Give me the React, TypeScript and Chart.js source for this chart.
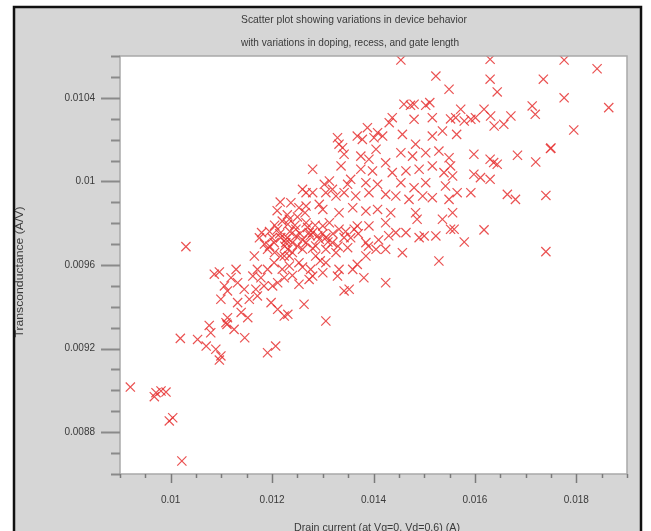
import React, { useEffect, useRef } from "react";
import { Chart, registerables } from "chart.js";

Chart.register(...registerables);

const titleLines = [
  "Scatter plot showing variations in device behavior",
  "with variations in doping, recess, and gate length",
];
const xAxisTitle = "Drain current (at Vg=0, Vd=0.6) (A)";
const yAxisTitle = "Transconductance (A/V)";

const xMin = 0.009;
const xMax = 0.019;
const yMin = 0.0086;
const yMax = 0.0106;
const xMinorStep = 0.0005;
const yMinorStep = 0.0001;
const xMajorTicks = [0.01, 0.012, 0.014, 0.016, 0.018];
const yMajorTicks = [0.0088, 0.0092, 0.0096, 0.01, 0.0104];

const xValues = [
  // lower-left region
  0.01216, 0.011793, 0.0103, 0.01019, 0.009204, 0.00971, 0.009809, 0.009907, 0.009677, 0.01004,
  0.009972, 0.01022, 0.01076, 0.01053, 0.0107, 0.01089, 0.01099, 0.01096, 0.01079, 0.01109,
  0.01112, 0.01125, 0.01146, 0.01191, 0.01207, 0.01099, 0.01132, 0.01145, 0.01155, 0.01171,
  0.01198, 0.01211, 0.01224, 0.01086, 0.01096, 0.01106, 0.01119, 0.01129, 0.01132, 0.01112,
  0.01165, 0.01171, 0.01178, 0.01191, 0.01204, 0.01217, 0.01211, 0.01224, 0.01184, 0.01191,
  0.01204, 0.01217, 0.01227, 0.01231, 0.01224, 0.01139, 0.01152, 0.01111, 0.01162, 0.01201,
  0.01168, 0.01211, 0.01231,
  // middle region
  0.01454, 0.01523, 0.01549, 0.0146, 0.01473, 0.0148, 0.01503, 0.01511, 0.01516, 0.0148,
  0.01437, 0.01431, 0.01388, 0.01408, 0.01418, 0.01401, 0.01368, 0.01378, 0.01457, 0.01483,
  0.01516, 0.01536, 0.01552, 0.01329, 0.01332, 0.01339, 0.01342, 0.01405, 0.01454, 0.01477,
  0.01503, 0.01529, 0.01549, 0.01375, 0.01391, 0.01424, 0.0128, 0.01336, 0.01375, 0.01398,
  0.01437, 0.01464, 0.0149, 0.01516, 0.01539, 0.01313, 0.01303, 0.01355, 0.01349, 0.01385,
  0.01408, 0.01454, 0.0148, 0.01503, 0.01542, 0.0126, 0.01267, 0.0128, 0.01306, 0.01319,
  0.01326, 0.01342, 0.01365, 0.01391, 0.01424, 0.01444, 0.0147, 0.01497, 0.01516, 0.01549,
  0.01237, 0.01253, 0.01267, 0.01293, 0.013, 0.01332, 0.01359, 0.01385, 0.01408, 0.01434,
  0.01483, 0.01486, 0.01536, 0.01556, 0.01234, 0.01247, 0.01267, 0.0128, 0.013, 0.01306,
  0.01332, 0.01362, 0.01368, 0.01391, 0.01424, 0.01444, 0.01464, 0.0149, 0.015, 0.01523,
  0.01552, 0.01227, 0.0124, 0.01234, 0.0126, 0.01267, 0.01286, 0.01293, 0.01319, 0.01326,
  0.01349, 0.01385, 0.01385, 0.01405, 0.01424, 0.01457, 0.01529, 0.01234, 0.01253, 0.01276,
  0.0128, 0.01273, 0.01306, 0.013, 0.01332, 0.01329, 0.01359, 0.01368, 0.01381, 0.01253,
  0.01424, 0.01342, 0.01352, 0.01263, 0.01306, 0.01231, 0.01247, 0.01273, 0.01313, 0.01286,
  0.01306, 0.01342,
  // right region
  0.0163, 0.01776, 0.01841, 0.0163, 0.01735, 0.01644, 0.01776, 0.01864, 0.01713, 0.01719,
  0.01572, 0.01562, 0.01579, 0.01592, 0.01601, 0.01618, 0.01631, 0.01671, 0.01638, 0.01657,
  0.01795, 0.01564, 0.01749, 0.01598, 0.0163, 0.01644, 0.01684, 0.0172, 0.01552, 0.01556,
  0.01598, 0.01611, 0.0163, 0.01565, 0.01592, 0.01664, 0.0168, 0.0174, 0.01559, 0.01579,
  0.01618, 0.0174, 0.0175, 0.01637,
  // dense core
  0.01205, 0.0122, 0.01235, 0.01245, 0.01255, 0.01215, 0.012, 0.01225, 0.0124, 0.0126,
  0.0127, 0.01285, 0.0129, 0.0123, 0.0121, 0.0125, 0.01265, 0.01195, 0.01205, 0.0125,
  0.0128, 0.01295, 0.0122, 0.0124, 0.0126, 0.01185, 0.01175, 0.01195, 0.0123, 0.01275,
  0.013, 0.0131, 0.0132, 0.0133, 0.01345, 0.01355, 0.0137, 0.0139, 0.0141, 0.0143,
];

const yValues = [
  // lower-left region
  0.009901, 0.009755, 0.009688, 0.009249, 0.009016, 0.008989, 0.008997, 0.008992, 0.00897, 0.008869,
  0.008854, 0.008662, 0.009311, 0.009244, 0.009212, 0.009197, 0.009165, 0.009145, 0.009276, 0.009324,
  0.009348, 0.009292, 0.009252, 0.00918, 0.009212, 0.009436, 0.00942, 0.009484, 0.009436, 0.009452,
  0.00942, 0.009388, 0.009356, 0.009556, 0.009567, 0.0095, 0.009539, 0.009579, 0.009515, 0.009476,
  0.009643, 0.009579, 0.009539, 0.009579, 0.009611, 0.009643, 0.009515, 0.009539, 0.0095, 0.009675,
  0.009707, 0.009731, 0.009707, 0.009675, 0.009643, 0.009373, 0.009348, 0.009316, 0.009547, 0.0095,
  0.009484, 0.009771, 0.009795,
  // middle region
  0.010581, 0.010504, 0.010441, 0.010369, 0.010364, 0.010369, 0.010364, 0.010377, 0.010305, 0.010297,
  0.010305, 0.010281, 0.010257, 0.010233, 0.010217, 0.010209, 0.010217, 0.010201, 0.010225, 0.010178,
  0.010217, 0.010241, 0.010299, 0.010209, 0.010178, 0.010161, 0.01013, 0.010154, 0.010137, 0.010121,
  0.010137, 0.010145, 0.010113, 0.010121, 0.010106, 0.010089, 0.010058, 0.010074, 0.010058, 0.01005,
  0.010042, 0.01005, 0.010058, 0.010074, 0.010042, 0.010002, 0.009986, 0.01001, 0.009986, 0.009994,
  0.009986, 0.009994, 0.00997, 0.009994, 0.009978, 0.009962, 0.009946, 0.009946, 0.009946, 0.009962,
  0.00993, 0.009946, 0.00993, 0.009946, 0.009938, 0.00993, 0.009914, 0.00993, 0.009922, 0.009914,
  0.009898, 0.009874, 0.009882, 0.00989, 0.009866, 0.00985, 0.009874, 0.009858, 0.009866, 0.00985,
  0.00985, 0.009819, 0.009819, 0.00985, 0.009819, 0.009771, 0.009802, 0.009755, 0.009787, 0.009731,
  0.009771, 0.009771, 0.009787, 0.009787, 0.009802, 0.009755, 0.009755, 0.009731, 0.009739, 0.009739,
  0.009771, 0.009723, 0.009707, 0.009643, 0.009675, 0.009707, 0.009691, 0.009723, 0.009707, 0.009659,
  0.009683, 0.009707, 0.009643, 0.009675, 0.009675, 0.009659, 0.009619, 0.009595, 0.009611, 0.009579,
  0.009547, 0.009531, 0.009611, 0.009563, 0.009579, 0.009547, 0.009579, 0.009603, 0.009539, 0.009508,
  0.009515, 0.009476, 0.009484, 0.009412, 0.009332, 0.009364, 0.009739, 0.009755, 0.009802, 0.009643,
  0.009675, 0.009731,
  // right region
  0.010584, 0.010581, 0.010539, 0.010489, 0.010489, 0.010428, 0.0104, 0.010353, 0.010361, 0.010321,
  0.010345, 0.010305, 0.010289, 0.010297, 0.010305, 0.010345, 0.010313, 0.010313, 0.010265, 0.010273,
  0.010246, 0.010225, 0.010157, 0.01013, 0.010106, 0.010082, 0.010125, 0.010093, 0.010074, 0.010026,
  0.010034, 0.010018, 0.01001, 0.009946, 0.009946, 0.009938, 0.009914, 0.009933, 0.009771, 0.00971,
  0.009768, 0.009664, 0.01016, 0.01009,
  // dense core
  0.00979, 0.00981, 0.00976, 0.00979, 0.00975, 0.00975, 0.00973, 0.00969, 0.00966, 0.00972,
  0.00978, 0.00979, 0.00974, 0.00984, 0.00986, 0.00983, 0.00985, 0.00969, 0.00966, 0.00969,
  0.00968, 0.00962, 0.00958, 0.00955, 0.00959, 0.0097, 0.00973, 0.00976, 0.00973, 0.00974,
  0.00975, 0.00971, 0.00975, 0.00969, 0.00976, 0.00973, 0.00975, 0.00969, 0.00972, 0.00974,
];

const isMajor = (v: number, majors: number[]) => majors.some((m) => Math.abs(m - v) < 1e-9);
const fmt = (v: number) => String(Number(v.toFixed(5)));

function drawFitText(ctx: CanvasRenderingContext2D, text: string, cx: number, cy: number, width: number, font: string, rotate = 0) {
  ctx.save();
  ctx.font = font;
  const w = ctx.measureText(text).width;
  ctx.translate(cx, cy);
  if (rotate) ctx.rotate(rotate);
  ctx.scale(width / w, 1);
  ctx.textAlign = "center";
  ctx.textBaseline = "middle";
  ctx.fillText(text, 0, 0);
  ctx.restore();
}

const decorPlugin = {
  id: "decor",
  beforeDraw(chart: any) {
    const { ctx, chartArea: a, width, height } = chart;
    ctx.save();
    ctx.fillStyle = "#ffffff";
    ctx.fillRect(0, 0, width, height);
    ctx.fillStyle = "#d6d6d6";
    ctx.fillRect(14, 7, 627, height);
    ctx.strokeStyle = "#111111";
    ctx.lineWidth = 2.5;
    ctx.strokeRect(14, 7, 627, height + 20);
    ctx.fillStyle = "#ffffff";
    ctx.fillRect(a.left, a.top, a.right - a.left, a.bottom - a.top);
    ctx.restore();
  },
  afterDatasetsDraw(chart: any) {
    const { ctx, chartArea: a } = chart;
    const xs = chart.scales.x;
    const ys = chart.scales.y;
    ctx.save();
    ctx.strokeStyle = "#a9a9a9";
    ctx.lineWidth = 1.5;
    ctx.strokeRect(a.left, a.top, a.right - a.left, a.bottom - a.top);
    ctx.strokeStyle = "#8a8a8a";
    ctx.lineWidth = 2;
    ys.ticks.forEach((t: any) => {
      const p = Math.round(ys.getPixelForValue(t.value)) + 0.5;
      const len = isMajor(t.value, yMajorTicks) ? 19 : 9;
      ctx.beginPath();
      ctx.moveTo(a.left - len, p);
      ctx.lineTo(a.left, p);
      ctx.stroke();
    });
    ctx.strokeStyle = "#7a7a7a";
    ctx.lineWidth = 1.5;
    xs.ticks.forEach((t: any) => {
      const p = Math.round(xs.getPixelForValue(t.value)) + 0.5;
      const len = isMajor(t.value, xMajorTicks) ? 9 : 4;
      ctx.beginPath();
      ctx.moveTo(p, a.bottom);
      ctx.lineTo(p, a.bottom + len);
      ctx.stroke();
    });
    ctx.fillStyle = "#3a3a3a";
    const f = '11px "Liberation Sans", Arial, sans-serif';
    drawFitText(ctx, titleLines[0], 354, 20, 226, f);
    drawFitText(ctx, titleLines[1], 350, 43, 218, f);
    drawFitText(ctx, xAxisTitle, 377, 528, 166, f);
    drawFitText(ctx, yAxisTitle, 20, 272, 131, f, -Math.PI / 2);
    ctx.restore();
  },
};

export default function App() {
  const ref = useRef<HTMLCanvasElement | null>(null);
  useEffect(() => {
    if (!ref.current) return;
    const points = xValues.map((x, i) => ({ x, y: yValues[i] }));
    const chart = new Chart(ref.current, {
      type: "scatter",
      data: {
        datasets: [
          {
            data: points,
            pointStyle: "crossRot",
            pointRadius: 6.5,
            pointBorderWidth: 1.2,
            borderColor: "rgba(230, 50, 50, 0.85)",
            backgroundColor: "rgba(230, 50, 50, 0.85)",
          },
        ],
      },
      options: {
        animation: false,
        responsive: false,
        devicePixelRatio: 1,
        layout: { padding: { left: 0, top: 56, right: 24, bottom: 0 } },
        plugins: { legend: { display: false }, title: { display: false }, tooltip: { enabled: false } },
        scales: {
          x: {
            type: "linear",
            min: xMin,
            max: xMax,
            afterFit: (s: any) => {
              s.height = 57;
            },
            grid: { display: false, drawTicks: false },
            border: { display: false },
            ticks: {
              stepSize: xMinorStep,
              autoSkip: false,
              maxRotation: 0,
              padding: 20,
              color: "#3a3a3a",
              font: { family: '"Liberation Sans", Arial, sans-serif', size: 10 },
              callback: (v: any) => (isMajor(Number(v), xMajorTicks) ? fmt(Number(v)) : ""),
            },
          },
          y: {
            type: "linear",
            min: yMin,
            max: yMax,
            afterFit: (s: any) => {
              s.width = 120;
            },
            grid: { display: false, drawTicks: false },
            border: { display: false },
            ticks: {
              stepSize: yMinorStep,
              autoSkip: false,
              padding: 25,
              color: "#3a3a3a",
              font: { family: '"Liberation Sans", Arial, sans-serif', size: 10 },
              callback: (v: any) => (isMajor(Number(v), yMajorTicks) ? fmt(Number(v)) : ""),
            },
          },
        },
      },
      plugins: [decorPlugin],
    });
    return () => chart.destroy();
  }, []);
  return (
    <div style={{ position: "fixed", left: 0, top: 0, width: 651, height: 531 }}>
      <canvas ref={ref} width={651} height={531} style={{ display: "block" }} />
    </div>
  );
}
